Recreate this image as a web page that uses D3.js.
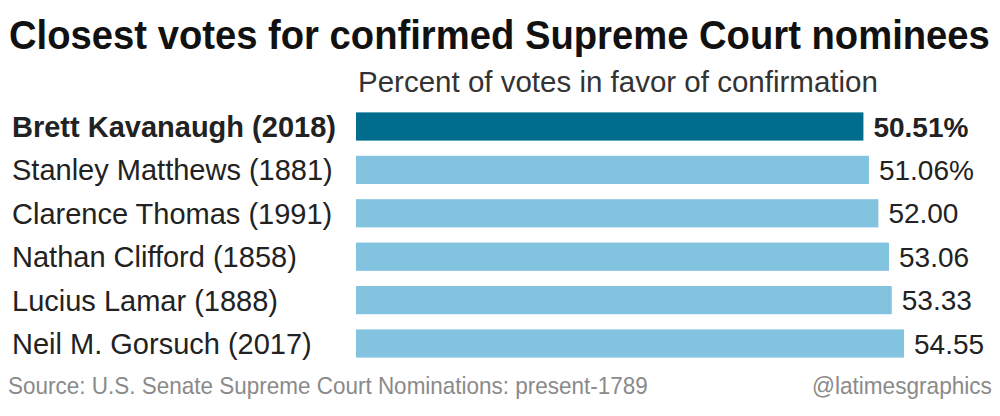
<!DOCTYPE html>
<html>
<head>
<meta charset="utf-8">
<script src="https://cdn.jsdelivr.net/npm/d3@7"></script>
<style>
  body { margin: 0; background: #fff; }
  svg { display: block; }
</style>
</head>
<body>
<div id="chart"></div>
<script>
(function() {
	// data
	const nominees = ["Brett Kavanaugh (2018)", "Stanley Matthews (1881)", "Clarence Thomas (1991)",
		"Nathan Clifford (1858)", "Lucius Lamar (1888)", "Neil M. Gorsuch (2017)"];
	const percents = [50.51, 51.06, 52.00, 53.06, 53.33, 54.55];
	const valueLabels = ["50.51%", "51.06%", "52.00", "53.06", "53.33", "54.55"];
	const highlight = "Brett Kavanaugh (2018)";

	const width = 1000, height = 416;
	const barLeft = 356;
	const font = "'Liberation Sans', Arial, sans-serif";

	const svg = d3.select("#chart").append("svg")
		.attr("width", width).attr("height", height);

	const rows = nominees.map((n, i) => ({name: n, value: percents[i], label: valueLabels[i]}));

	const x = d3.scaleLinear().domain([0, 54.55]).range([barLeft, 904]);
	const y = d3.scaleBand().domain(nominees).range([105, 365]).paddingInner(0.35).paddingOuter(0.17);

	// squeeze a text horizontally to a target width (stand-in for a condensed face)
	function condensed(sel, x0, y0, targetW, anchorEnd) {
		const w = sel.node().getComputedTextLength();
		const k = Math.min(1, targetW / w);
		const tx = anchorEnd ? x0 - w * k : x0;
		sel.attr("x", 0).attr("y", 0).attr("text-anchor", "start")
			.attr("transform", `translate(${tx},${y0}) scale(${k},1)`);
	}

	const title = svg.append("text")
		.attr("font-family", font)
		.attr("font-weight", "bold").attr("font-size", 41)
		.attr("fill", "#111")
		.text("Closest votes for confirmed Supreme Court nominees");
	condensed(title, 9, 49, 981);

	const sub = svg.append("text")
		.attr("font-family", font)
		.attr("font-size", 30).attr("fill", "#333")
		.text("Percent of votes in favor of confirmation");
	condensed(sub, 358, 92, 520);

	const g = svg.append("g");

	g.selectAll("rect.bar").data(rows).join("rect")
		.attr("class", "bar")
		.attr("x", x(0))
		.attr("y", d => y(d.name))
		.attr("width", d => x(d.value) - x(0))
		.attr("height", y.bandwidth())
		.attr("fill", d => d.name === highlight ? "#016d8e" : "#82c4e0");

	g.selectAll("text.name").data(rows).join("text")
		.attr("class", "name")
		.attr("x", 12)
		.attr("y", d => y(d.name) + y.bandwidth() / 2)
		.attr("dy", "0.36em")
		.attr("font-family", font)
		.attr("font-size", 29)
		.attr("font-weight", d => d.name === highlight ? "bold" : "normal")
		.attr("fill", "#222")
		.text(d => d.name);

	g.selectAll("text.val").data(rows).join("text")
		.attr("class", "val")
		.attr("x", d => x(d.value) + 10)
		.attr("y", d => y(d.name) + y.bandwidth() / 2)
		.attr("dy", "0.36em")
		.attr("font-family", font)
		.attr("font-size", 28)
		.attr("font-weight", d => d.name === highlight ? "bold" : "normal")
		.attr("fill", "#222")
		.text(d => d.label);

	const src = svg.append("text")
		.attr("font-family", font)
		.attr("font-size", 24).attr("fill", "#8a8a8a")
		.text("Source: U.S. Senate Supreme Court Nominations: present-1789");
	condensed(src, 8, 394, 640);

	const credit = svg.append("text")
		.attr("font-family", font)
		.attr("font-size", 24).attr("fill", "#8a8a8a")
		.text("@latimesgraphics");
	condensed(credit, 992, 394, 180, true);
})();
</script>
</body>
</html>
